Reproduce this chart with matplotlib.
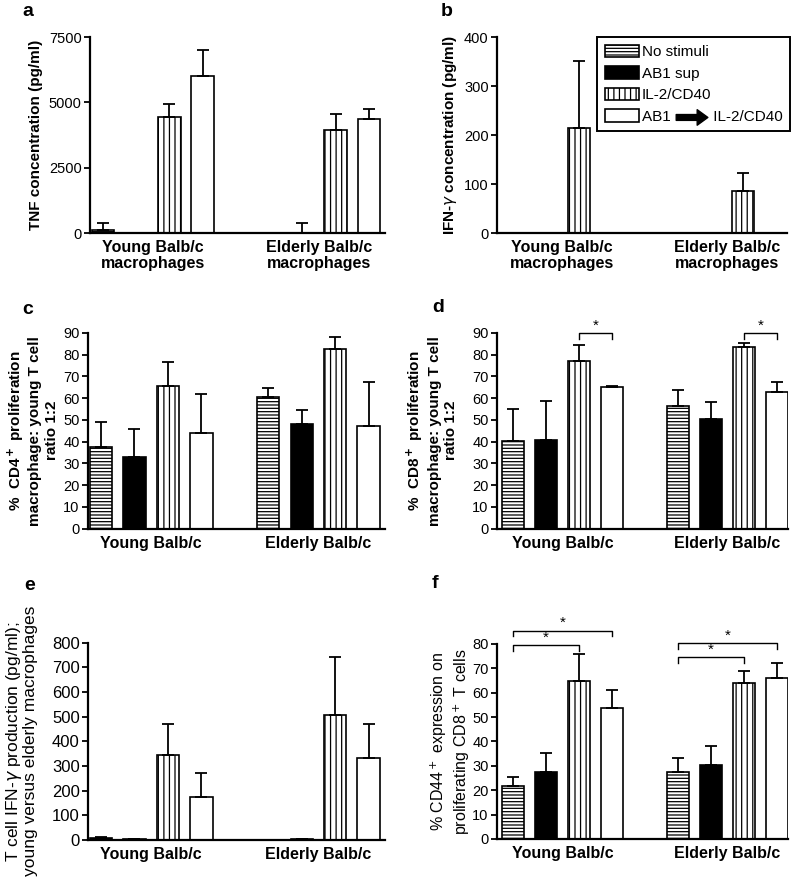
import numpy as np
import matplotlib
matplotlib.use('Agg')
import matplotlib.pyplot as plt
from matplotlib.patches import Patch

plt.rcParams['font.family'] = ['Liberation Sans', 'DejaVu Sans']
plt.rcParams['hatch.linewidth'] = 0.9

treatments = ['No stimuli', 'AB1 sup', 'IL-2/CD40', 'AB1' + ' ' * 10 + 'IL-2/CD40']
groups = ['Young Balb/c', 'Elderly Balb/c']
groups_mac = ['Young Balb/c\nmacrophages', 'Elderly Balb/c\nmacrophages']

# bar means then upper error, young 4 bars followed by elderly 4 bars
tnf = [130, 20, 4440, 6000, 10, 20, 3930, 4380]
tnf_err = [250, 0, 510, 1000, 0, 360, 640, 360]
ifn = [0, 1, 214, 0, 1, 0, 86, 0]
ifn_err = [0, 0, 138, 0, 0, 0, 37, 0]
cd4 = [37.5, 33, 65.5, 43.8, 60.5, 48, 82.6, 47.2]
cd4_err = [11.5, 12.8, 11, 17.9, 4.1, 6.5, 5.4, 20]
cd8 = [40.3, 40.9, 77.2, 64.9, 56.4, 50.4, 83.4, 62.8]
cd8_err = [14.7, 17.8, 7, 0.7, 7.1, 7.6, 2.1, 4.4]
tifn = [8, 2, 343, 174, 1, 2, 507, 332]
tifn_err = [4, 0, 127, 98, 0, 0, 236, 138]
cd44 = [21.6, 27.3, 64.8, 53.7, 27.3, 30.2, 63.9, 65.9]
cd44_err = [3.9, 7.9, 11.1, 7.4, 5.9, 7.8, 5.1, 6.4]

# significance brackets: (bar from, bar to, height)
sig_d = [(2, 3, 89.7), (6, 7, 89.7)]
sig_f = [(0, 2, 79.6), (0, 3, 85.5), (4, 6, 74.5), (4, 7, 80.2)]

xpos = np.array([0, 1, 2, 3, 5, 6, 7, 8])
fills = ['white', 'black', 'white', 'white']
hatches = ['-----', None, '|||', None]

fig = plt.figure(figsize=(7.95, 8.8), dpi=100)

def panel(rect, vals, errs, xlim, ylim, yticks, ylabel, xlabels, letter, lpos,
          ylw='bold', yfs=11, ylpad=4, yls=1.2, tfs=10.5):
    ax = fig.add_axes(rect)
    for i in range(8):
        ax.bar(xpos[i], vals[i], width=0.67, color=fills[i % 4], hatch=hatches[i % 4],
               edgecolor='black', linewidth=1.2)
    ax.errorbar(xpos, vals, yerr=[np.zeros(8), errs], fmt='none', ecolor='black',
                elinewidth=1.3, capsize=4.5, capthick=1.3)
    ax.set_xlim(*xlim)
    ax.set_ylim(*ylim)
    ax.set_yticks(yticks)
    ax.set_xticks([1.5, 6.5])
    ax.set_xticklabels(xlabels, fontweight='bold', fontsize=11.5, linespacing=1.1)
    ax.tick_params(axis='x', length=0, pad=5)
    ax.tick_params(axis='y', length=4, width=1.3, labelsize=tfs, pad=2)
    for s in ['top', 'right']:
        ax.spines[s].set_visible(False)
    for s in ['left', 'bottom']:
        ax.spines[s].set_linewidth(1.6)
    ax.set_ylabel(ylabel, fontweight=ylw, fontsize=yfs, labelpad=ylpad, linespacing=yls)
    fig.text(lpos[0] / 795, 1 - lpos[1] / 880, letter, fontsize=14, fontweight='bold',
             ha='center', va='center')
    return ax

def brackets(ax, sigs, drop):
    for a, b, h in sigs:
        x0, x1 = xpos[a], xpos[b]
        ax.plot([x0, x0, x1, x1], [h - drop, h, h, h - drop], color='black', lw=1.0,
                clip_on=False)
        ax.text((x0 + x1) / 2, h + drop * 0.1, '*', ha='center', va='bottom', fontsize=11,
                clip_on=False)

left_x = (-0.39, 8.49)
right_x = (-0.48, 8.34)

axa = panel([0.1132, 0.7352, 0.3711, 0.2227], tnf, tnf_err, left_x, (0, 7500),
            [0, 2500, 5000, 7500], 'TNF concentration (pg/ml)', groups_mac, 'a', (28, 11))
axb = panel([0.6252, 0.7352, 0.3650, 0.2227], ifn, ifn_err, right_x, (0, 400),
            [0, 100, 200, 300, 400], 'IFN-$\\gamma$ concentration (pg/ml)', groups_mac, 'b', (447, 11))
axc = panel([0.1107, 0.3992, 0.3736, 0.2227], cd4, cd4_err, left_x, (0, 90),
            range(0, 91, 10), '%  CD4$^{\\bf +}$ proliferation\nmacrophage: young T cell\nratio 1:2',
            groups, 'c', (28, 309), ylpad=3, yls=1.25)
axd = panel([0.6252, 0.3992, 0.3660, 0.2227], cd8, cd8_err, right_x, (0, 90),
            range(0, 91, 10), '%  CD8$^{\\bf +}$ proliferation\nmacrophage: young T cell\nratio 1:2',
            groups, 'd', (438, 308), ylpad=10, yls=1.25)
axe = panel([0.1107, 0.0455, 0.3736, 0.2242], tifn, tifn_err, left_x, (0, 800),
            range(0, 801, 100), 'T cell IFN-$\\gamma$ production (pg/ml);\nyoung versus elderly macrophages',
            groups, 'e', (30, 585), ylw='normal', yfs=12.5, ylpad=10, yls=0.95, tfs=12)
axf = panel([0.6252, 0.0466, 0.3660, 0.2216], cd44, cd44_err, right_x, (0, 80),
            range(0, 81, 10), '% CD44$^+$ expression on\nproliferating CD8$^+$ T cells',
            groups, 'f', (435, 583), ylw='normal', yfs=11.5, ylpad=0)

brackets(axd, sig_d, 2.7)
brackets(axf, sig_f, 2.3)

handles = [Patch(facecolor=fills[i], edgecolor='black', hatch=hatches[i], linewidth=1.2)
           for i in range(4)]
leg = axb.legend(handles, treatments, loc='upper right', bbox_to_anchor=(1.01, 1.0),
                 borderaxespad=0, fontsize=11, handlelength=2.2, handleheight=0.9,
                 handletextpad=0.2, labelspacing=0.45, fancybox=False, framealpha=1,
                 edgecolor='black', borderpad=0.5)
leg.get_frame().set_linewidth(1.4)

# bold arrow inside the last legend label, placed relative to the label's box
arrow = axb.annotate('', xy=(0.47, 0.45), xytext=(0.245, 0.45), xycoords=leg.get_texts()[3],
                     arrowprops=dict(arrowstyle='simple,head_length=0.55,head_width=0.8,tail_width=0.3',
                                     color='black', mutation_scale=14, shrinkA=0, shrinkB=0))
arrow.set_zorder(6)

fig.savefig('out.png', dpi=100)
